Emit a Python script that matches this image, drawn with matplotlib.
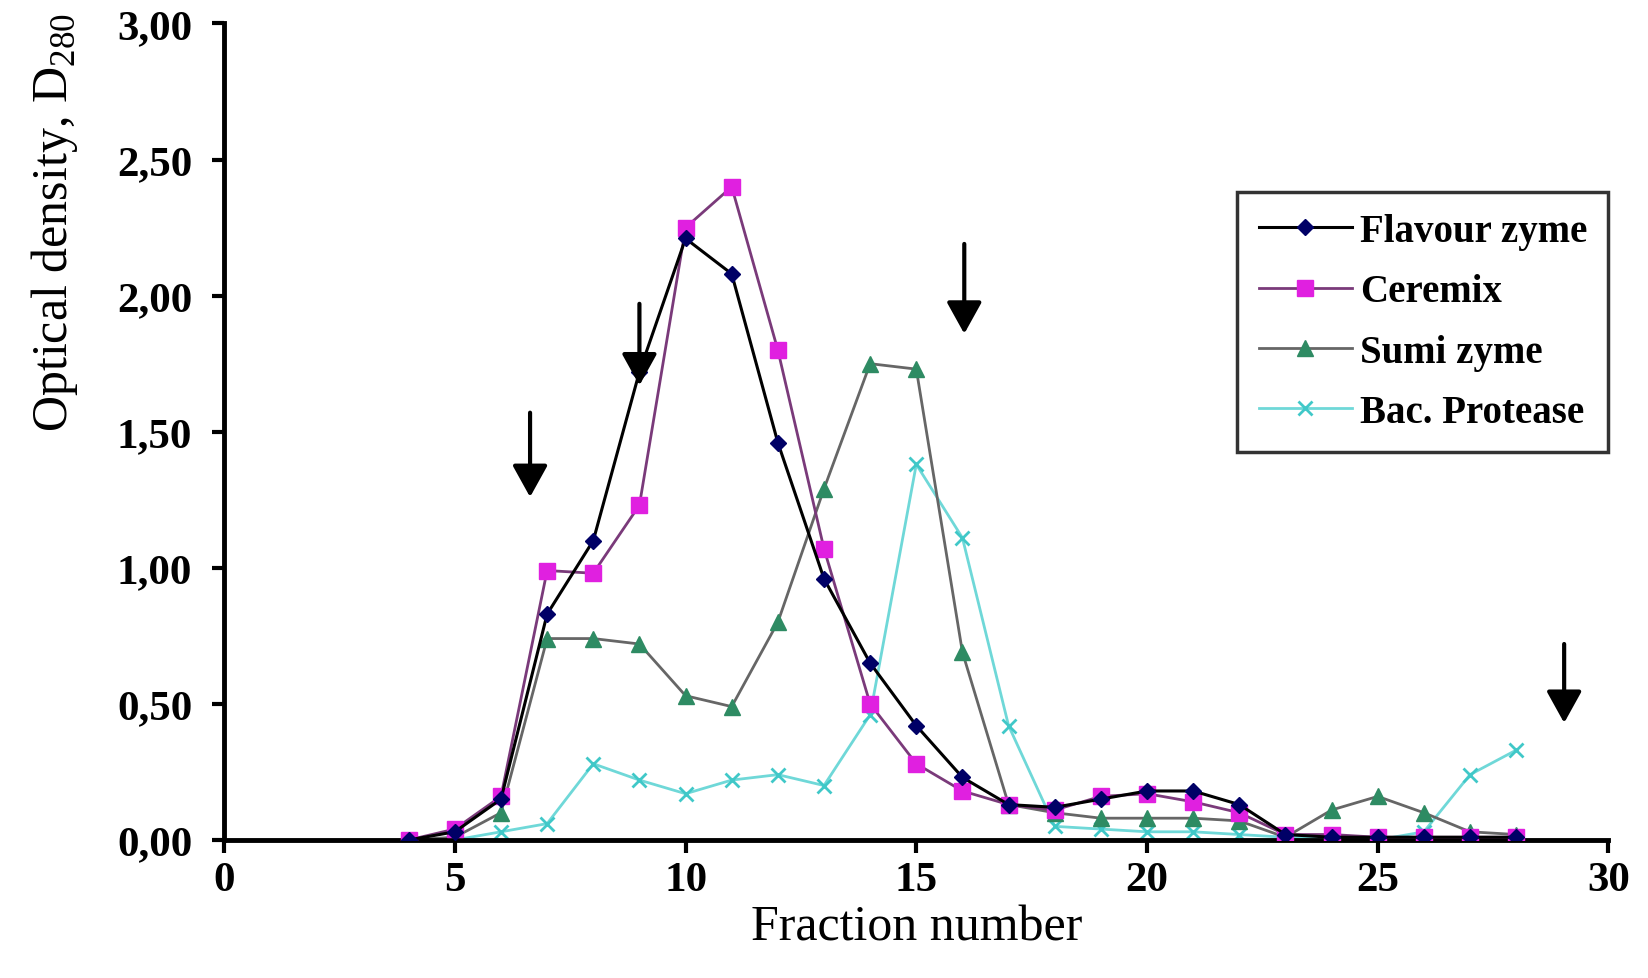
import numpy as np
import matplotlib
matplotlib.use("Agg")
import matplotlib.pyplot as plt

# fraction numbers and optical density (D280) per enzyme preparation
fractions = [4, 5, 6, 7, 8, 9, 10, 11, 12, 13, 14, 15, 16, 17, 18, 19, 20, 21, 22, 23, 24, 25, 26, 27, 28]
flavourzyme = [0.00, 0.03, 0.15, 0.83, 1.10, 1.72, 2.21, 2.08, 1.46, 0.96, 0.65, 0.42, 0.23, 0.13, 0.12,
               0.15, 0.18, 0.18, 0.13, 0.02, 0.01, 0.01, 0.01, 0.01, 0.01]
ceremix = [0.00, 0.04, 0.16, 0.99, 0.98, 1.23, 2.25, 2.40, 1.80, 1.07, 0.50, 0.28, 0.18, 0.13, 0.11,
           0.16, 0.17, 0.14, 0.10, 0.02, 0.02, 0.01, 0.01, 0.01, 0.01]
sumizyme = [0.00, 0.01, 0.10, 0.74, 0.74, 0.72, 0.53, 0.49, 0.80, 1.29, 1.75, 1.73, 0.69, 0.13, 0.10,
            0.08, 0.08, 0.08, 0.07, 0.01, 0.11, 0.16, 0.10, 0.03, 0.02]
bac_protease = [0.00, 0.00, 0.03, 0.06, 0.28, 0.22, 0.17, 0.22, 0.24, 0.20, 0.46, 1.38, 1.11, 0.42, 0.05,
                0.04, 0.03, 0.03, 0.02, 0.01, 0.01, 0.00, 0.03, 0.24, 0.33]

series_names = ["Flavour zyme", "Ceremix", "Sumi zyme", "Bac. Protease"]

# arrows marking pooled peaks: (fraction, top, tip)
arrow_x = [6.63, 9.0, 16.04, 29.04]
arrow_top = [1.57, 1.97, 2.19, 0.72]
arrow_tip = [1.26, 1.67, 1.86, 0.43]

xticks = [0, 5, 10, 15, 20, 25, 30]
yticks = [0.0, 0.5, 1.0, 1.5, 2.0, 2.5, 3.0]
ytick_labels = ["0,00", "0,50", "1,00", "1,50", "2,00", "2,50", "3,00"]

plt.rcParams["font.family"] = ["Liberation Serif", "DejaVu Serif"]
plt.rcParams["mathtext.fontset"] = "custom"
plt.rcParams["mathtext.rm"] = "Liberation Serif"

fig = plt.figure(figsize=(16.48, 9.79), dpi=100)
ax = fig.add_axes([0.136, 0.141, 0.840, 0.834])

ax.plot(fractions, flavourzyme, color="black", lw=2.2, marker="D", ms=8,
        mfc="#000066", mec="#000066", label=series_names[0], zorder=4)
ax.plot(fractions, ceremix, color="#7a3a7a", lw=2.0, marker="s", ms=11,
        mfc="#e020e0", mec="#e020e0", label=series_names[1], zorder=3)
ax.plot(fractions, sumizyme, color="#666666", lw=2.0, marker="^", ms=11,
        mfc="#2e8b63", mec="#2e8b63", label=series_names[2], zorder=2)
ax.plot(fractions, bac_protease, color="#6fd8d8", lw=2.0, marker="x", ms=10, mew=2,
        mec="#40c8c8", label=series_names[3], zorder=1)

for x, top, tip in zip(arrow_x, arrow_top, arrow_tip):
    ax.annotate("", xy=(x, tip), xytext=(x, top),
                arrowprops=dict(arrowstyle="-|>,head_width=0.36,head_length=0.65",
                                lw=3, color="black", mutation_scale=30,
                                shrinkA=0, shrinkB=0), zorder=6)

ax.set_xlim(0, 30)
ax.set_ylim(0, 3.0)
ax.set_xticks(xticks)
ax.set_yticks(yticks)
ax.set_yticklabels(ytick_labels)

for side in ["top", "right"]:
    ax.spines[side].set_visible(False)
for side in ["left", "bottom"]:
    ax.spines[side].set_linewidth(3.5)
    ax.spines[side].set_color("black")

ax.tick_params(axis="both", direction="out", length=9, width=3, labelsize=31)
ax.tick_params(axis="x", pad=6)
ax.tick_params(axis="y", pad=14)
for lbl in ax.get_xticklabels() + ax.get_yticklabels():
    lbl.set_fontweight("bold")

ax.set_xlabel("Fraction number", fontsize=36, labelpad=4)
ax.set_ylabel(r"Optical density, D$_{280}$", fontsize=36)
ax.yaxis.set_label_coords(-0.104, 0.757)

leg = ax.legend(loc="upper right", bbox_to_anchor=(1.0, 0.794), borderaxespad=0,
                frameon=True, fancybox=False, edgecolor="black",
                prop={"size": 28, "weight": "bold"},
                handlelength=2.4, handletextpad=0.2, borderpad=0.55, labelspacing=0.6)
leg.get_frame().set_linewidth(2.5)

fig.savefig("out.png", dpi=100)
